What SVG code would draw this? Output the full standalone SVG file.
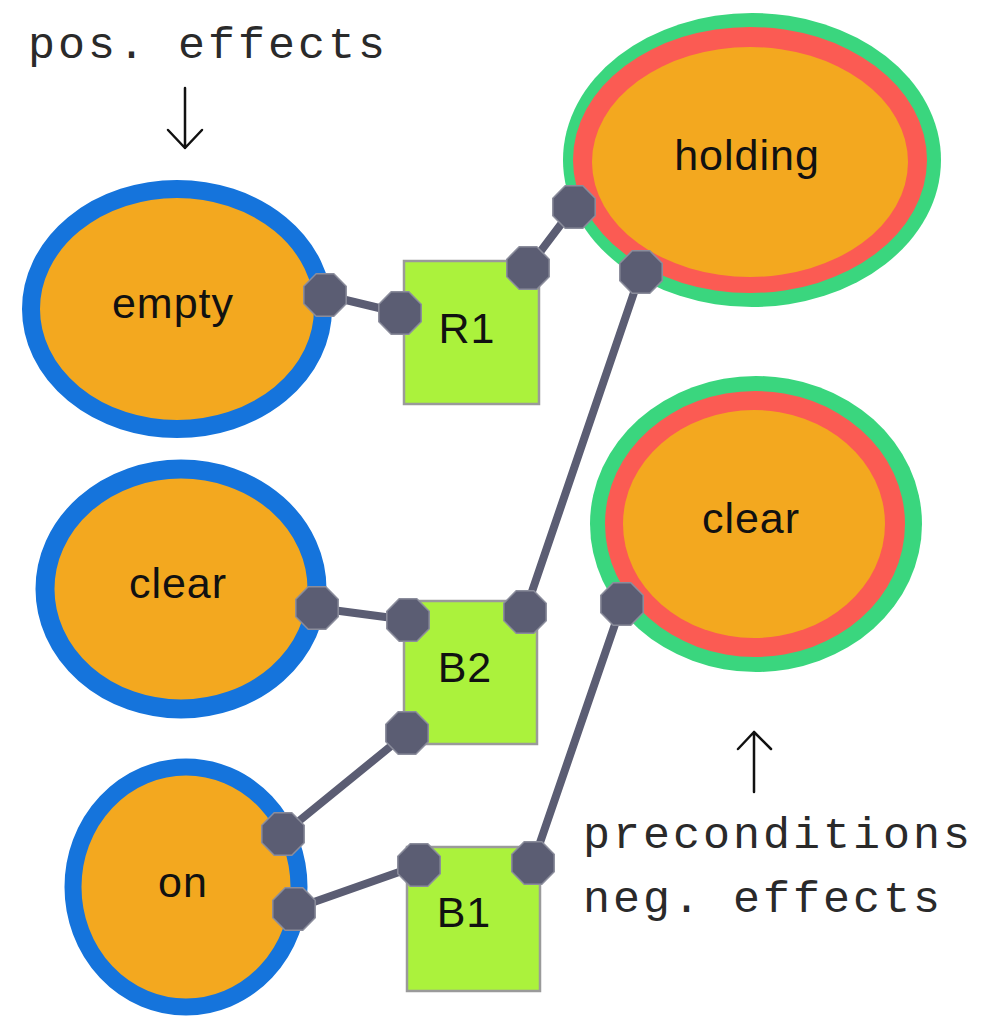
<svg xmlns="http://www.w3.org/2000/svg" width="981" height="1019" viewBox="0 0 981 1019">
  <style>
    .bg { fill: #ffffff; }
    .fact { fill: #f3a81f; }
    .pos { fill: none; stroke: #1574dc; }
    .ring-out { fill: #3ad67e; }
    .ring-in { fill: #fb5b53; }
    .action { fill: #abf23c; stroke: #9a9a9a; stroke-width: 2.5; }
    .label { font-family: "Liberation Sans", Arial, sans-serif; font-size: 43px; fill: #111111; text-anchor: middle; letter-spacing: 1px; }
    .note { font-family: "Liberation Mono", "Courier New", monospace; font-size: 45px; fill: #2a2a2a; letter-spacing: 3px; }
    .edge { stroke: #5b5d73; stroke-width: 8; fill: none; stroke-linecap: round; }
    .pointer { stroke: #111111; stroke-width: 2.5; fill: none; stroke-linecap: round; stroke-linejoin: round; }
    .port { fill: #5b5d73; stroke: #8b8d9c; stroke-width: 1.5; }
  </style>
  <defs>
    <polygon id="oct" points="21.2,8.8 8.8,21.2 -8.8,21.2 -21.2,8.8 -21.2,-8.8 -8.8,-21.2 8.8,-21.2 21.2,-8.8"/>
  </defs>

  <rect class="bg" x="0" y="0" width="981" height="1019"/>

  <!-- annotations -->
  <g id="note-pos">
    <text class="note" x="28" y="58">pos. effects</text>
    <path class="pointer" d="M185,88 V148 M168,130 L185,148 L202,130"/>
  </g>
  <g id="note-neg">
    <path class="pointer" d="M754,792 V732 M738,749 L754,732 L771,749"/>
    <text class="note" x="583" y="848">preconditions</text>
    <text class="note" x="583" y="912">neg. effects</text>
  </g>

  <!-- connectors -->
  <g id="connectors">
    <line class="edge" x1="325" y1="295" x2="400" y2="313"/>
    <line class="edge" x1="528" y1="268" x2="574" y2="207"/>
    <line class="edge" x1="641" y1="272" x2="525" y2="612"/>
    <line class="edge" x1="317" y1="608" x2="408" y2="620"/>
    <line class="edge" x1="407" y1="733" x2="283" y2="834"/>
    <line class="edge" x1="622" y1="604" x2="533" y2="863"/>
    <line class="edge" x1="294" y1="909" x2="419" y2="865"/>
  </g>

  <!-- facts with positive effects -->
  <g id="fact-empty">
    <ellipse class="fact" cx="177" cy="309" rx="146" ry="120"/>
    <ellipse class="pos" cx="177" cy="309" rx="146" ry="120" stroke-width="18"/>
    <text class="label" x="173" y="318">empty</text>
  </g>
  <g id="fact-clear-a">
    <ellipse class="fact" cx="181" cy="589" rx="136" ry="120"/>
    <ellipse class="pos" cx="181" cy="589" rx="136" ry="120" stroke-width="19"/>
    <text class="label" x="178" y="598">clear</text>
  </g>
  <g id="fact-on">
    <ellipse class="fact" cx="186" cy="887" rx="113" ry="120"/>
    <ellipse class="pos" cx="186" cy="887" rx="113" ry="120" stroke-width="17"/>
    <text class="label" x="183" y="897">on</text>
  </g>

  <!-- facts with preconditions / negative effects -->
  <g id="fact-holding">
    <ellipse class="ring-out" cx="752" cy="160" rx="189" ry="147"/>
    <ellipse class="ring-in" cx="750" cy="160" rx="177" ry="133"/>
    <ellipse class="fact" cx="750" cy="162" rx="158" ry="115"/>
    <text class="label" x="747" y="170">holding</text>
  </g>
  <g id="fact-clear-b">
    <ellipse class="ring-out" cx="756" cy="524" rx="166" ry="148"/>
    <ellipse class="ring-in" cx="755" cy="524" rx="150" ry="133"/>
    <ellipse class="fact" cx="754" cy="524" rx="131" ry="114"/>
    <text class="label" x="751" y="533">clear</text>
  </g>

  <!-- actions -->
  <g id="action-R1">
    <rect class="action" x="404" y="261" width="135" height="143"/>
    <text class="label" x="467" y="343">R1</text>
  </g>
  <g id="action-B2">
    <rect class="action" x="404" y="601" width="133" height="143"/>
    <text class="label" x="465" y="682">B2</text>
  </g>
  <g id="action-B1">
    <rect class="action" x="407" y="847" width="133" height="144"/>
    <text class="label" x="464" y="927">B1</text>
  </g>

  <!-- ports -->
  <g id="ports">
    <use href="#oct" class="port" x="325" y="295"/>
    <use href="#oct" class="port" x="400" y="313"/>
    <use href="#oct" class="port" x="528" y="268"/>
    <use href="#oct" class="port" x="574" y="207"/>
    <use href="#oct" class="port" x="641" y="272"/>
    <use href="#oct" class="port" x="317" y="608"/>
    <use href="#oct" class="port" x="408" y="620"/>
    <use href="#oct" class="port" x="525" y="612"/>
    <use href="#oct" class="port" x="407" y="733"/>
    <use href="#oct" class="port" x="622" y="604"/>
    <use href="#oct" class="port" x="283" y="834"/>
    <use href="#oct" class="port" x="294" y="909"/>
    <use href="#oct" class="port" x="419" y="865"/>
    <use href="#oct" class="port" x="533" y="863"/>
  </g>
</svg>
